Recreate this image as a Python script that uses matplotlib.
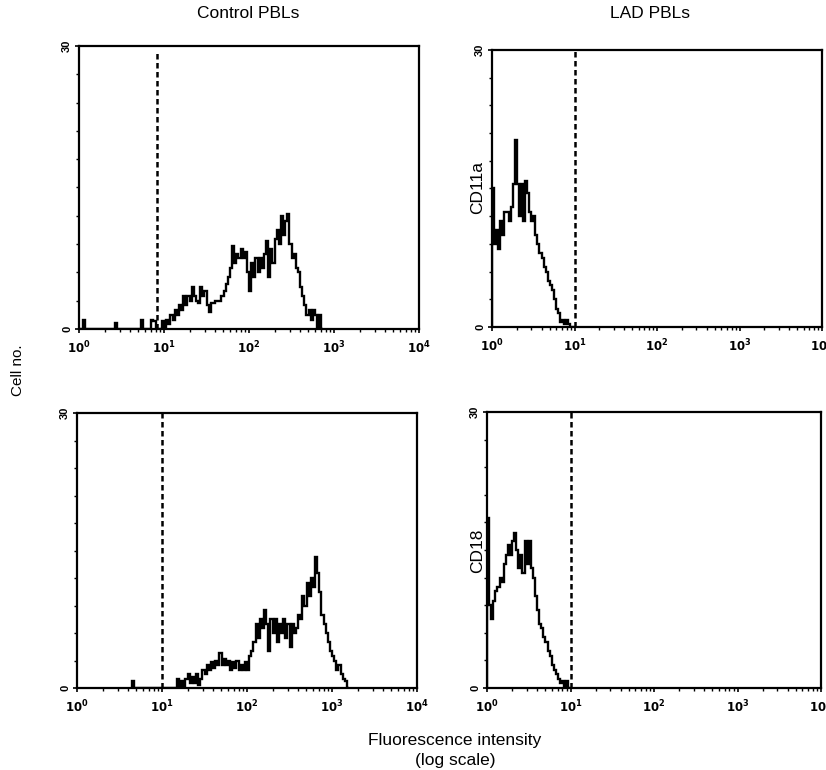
'''
flow cytometry histograms: CD11a / CD18 on control vs LAD PBLs
'''
import numpy as np
import matplotlib
matplotlib.use('Agg')
import matplotlib.pyplot as plt
from matplotlib.ticker import FixedLocator, NullFormatter

plt.rcParams['font.family'] = ['Liberation Sans', 'DejaVu Sans']

# bin width in decades (log10 fluorescence)
BIN = 0.025

# Control PBLs, CD11a  (counts per bin, starting at bin index given)
ctrl_cd11a_start = 0
ctrl_cd11a = [0, 0, 1, 0, 0, 0, 0, 0, 0, 0, 0, 0, 0, 0, 0, 0, 0, 0.6, 0, 0,
              0, 0, 0, 0, 0, 0, 0, 0, 0, 1, 0, 0, 0, 0, 1, 0.8, 0, 0, 0, 0.8,
              0, 1, 0.5, 1.5, 1, 2, 1.5, 2.5, 2, 3.5, 2.5, 3.5, 3, 4.5, 3.5, 3,
              2.8, 4.5, 3.5, 4, 2.5, 1.8, 2.8, 2.8, 3, 3, 3, 3.5, 4, 4.8, 5.5, 6.5,
              8.8, 7, 8, 7.5, 8.5, 7.5, 8.2, 6, 4, 7, 5.5, 7.5, 6, 7.5, 6.5, 8,
              9.3, 5.5, 8.5, 7, 9.5, 10.5, 9, 12, 10, 11.5, 12.2, 9, 7.5, 8, 6.5, 6,
              4.5, 3.5, 2.5, 1.5, 2, 1, 2, 1.5, 0, 1.5, 0]

# LAD PBLs, CD11a
lad_cd11a_start = 0
lad_cd11a = [15, 9, 10.5, 8.5, 11.5, 10, 12.5, 12.5, 11.5, 13, 15.5, 20.3, 15.5, 12,
             15.5, 11.5, 15.8, 14.5, 12.5, 11.5, 12, 10, 9, 8, 7.5, 6.5, 6, 5, 4.5,
             4, 3, 2, 1.5, 0.5, 0.8, 0.3, 0.8, 0.3, 0, 0]

# Control PBLs, CD18
ctrl_cd18_start = 26
ctrl_cd18 = [0.8, 0, 0, 0, 0, 0, 0, 0, 0, 0, 0, 0, 0, 0, 0, 0, 0, 0, 0, 0, 0,
             1, 0, 0.8, 0, 1, 1.5, 0.5, 1.2, 0.5, 1.5, 0.3, 1, 2, 1.5, 2.5, 2, 2.8,
             2.2, 3, 2.5, 3.8, 2.5, 3.2, 2.5, 3, 2, 2.8, 2.2, 3, 2, 2.5, 2, 2.8,
             2, 3.5, 4, 5, 7, 5.5, 7.5, 6.5, 8.5, 7, 4, 7.5, 6, 7.5, 5, 7, 6,
             7.5, 5.5, 7, 4.5, 7, 6, 6.5, 8, 7.5, 10, 9, 11.5, 10, 12, 11, 14.3,
             12.5, 10.5, 8, 7, 6, 5, 4, 3.5, 3, 2, 2.5, 1.5, 1, 0.8, 0]

# LAD PBLs, CD18
lad_cd18_start = 0
lad_cd18 = [18.5, 9, 7.5, 9.5, 10.5, 11, 12, 11.5, 13.5, 14.5, 15.5, 14.5, 16, 16.8,
            15, 13, 14.5, 12.5, 16, 13.5, 16, 13, 12, 10, 8.5, 7, 6.5, 5.5, 5, 4,
            3.5, 2.5, 2, 1.5, 1, 0.5, 0.8, 0, 0.8, 0]

# gate (log10) and top of the dashed line for each panel
gates = [0.92, 1.0, 1.0, 1.0]
gate_tops = [0.975, 1.0, 1.0, 1.0]

panels = [(ctrl_cd11a_start, ctrl_cd11a), (lad_cd11a_start, lad_cd11a),
          (ctrl_cd18_start, ctrl_cd18), (lad_cd18_start, lad_cd18)]

W, H = 826, 770
fig = plt.figure(figsize=(W / 100, H / 100), dpi=100)

# axes boxes in pixels: left, right, top, bottom
boxes = [(79, 419, 46, 329), (492, 822, 50, 327),
         (77, 417, 413, 688), (487, 821, 412, 688)]

xt_labels = [r'$\mathbf{10^{%d}}$' % k for k in range(5)]

for (start, counts), (l, r, t, b), g, gt in zip(panels, boxes, gates, gate_tops):
    ax = fig.add_axes([l / W, 1 - b / H, (r - l) / W, (b - t) / H])
    counts = np.array(counts, dtype=float)
    edges = 10 ** (BIN * (start + np.arange(len(counts) + 1)))
    ax.stairs(counts, edges, color='black', lw=1.7)

    ax.axvline(10 ** g, ymax=gt, color='black', lw=1.8, ls=(0, (2.2, 1.4)))

    ax.set_xscale('log')
    ax.set_xlim(1, 1e4)
    ax.set_ylim(0, 30)

    ax.set_xticks([1, 10, 100, 1000, 10000])
    ax.set_xticklabels(xt_labels, fontsize=8.5)
    ax.xaxis.set_minor_locator(FixedLocator(
        [m * 10 ** k for k in range(4) for m in range(2, 10)]))
    ax.xaxis.set_minor_formatter(NullFormatter())

    ax.set_yticks([0, 30])
    ax.set_yticklabels(['0', '30'], rotation=90, fontsize=8, fontweight='bold',
                       va='center')
    ax.yaxis.set_minor_locator(FixedLocator(np.arange(3, 30, 3)))

    ax.tick_params(which='major', direction='out', length=3, width=1.2, pad=2)
    ax.tick_params(which='minor', direction='out', length=2, width=1)
    ax.tick_params(axis='x', pad=5)
    for s in ax.spines.values():
        s.set_linewidth(1.6)

fig.text(248 / W, 1 - 13 / H, 'Control PBLs', ha='center', va='center', fontsize=12.5)
fig.text(650 / W, 1 - 13 / H, 'LAD PBLs', ha='center', va='center', fontsize=12.5)
fig.text(18 / W, 1 - 370 / H, 'Cell no.', ha='center', va='center', fontsize=11,
         rotation=90)
fig.text(478 / W, 1 - 187 / H, 'CD11a', ha='center', va='center', fontsize=12.5,
         rotation=90)
fig.text(478 / W, 1 - 551 / H, 'CD18', ha='center', va='center', fontsize=12.5,
         rotation=90)
fig.text(455 / W, 1 - 741 / H, 'Fluorescence intensity', ha='center', va='center',
         fontsize=12.5)
fig.text(455 / W, 1 - 760 / H, '(log scale)', ha='center', va='center',
         fontsize=12.5)

fig.savefig('out.png', dpi=100, facecolor='white')
